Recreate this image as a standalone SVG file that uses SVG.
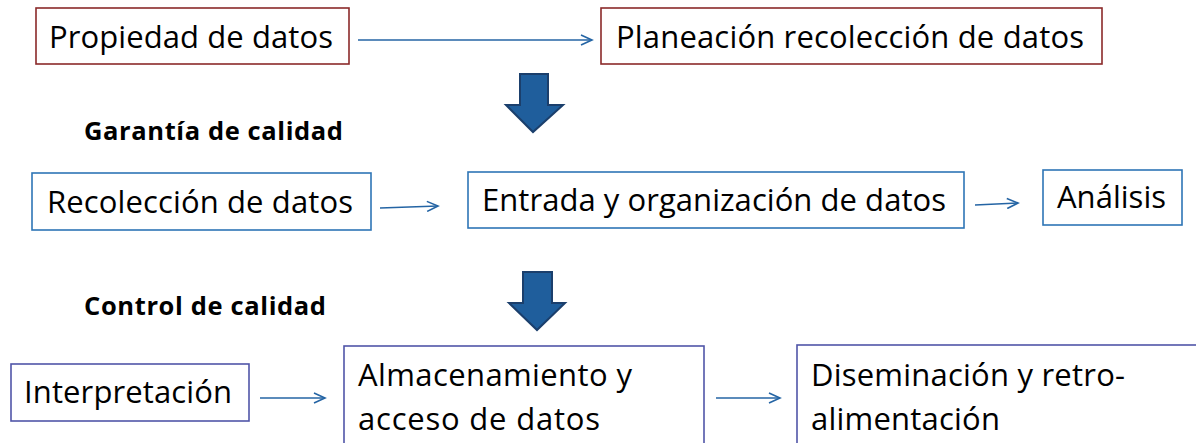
<svg xmlns="http://www.w3.org/2000/svg" width="1196" height="443" viewBox="0 0 1196 443">
<style>
.box{fill:#fff;stroke-width:1.6}
.red{stroke:#8B2A2A}
.blue{stroke:#2E75B6}
.purple{stroke:#5055A8}
.t{font-family:"Open Sans","Liberation Sans",sans-serif;font-size:31px;fill:#000}
.h{font-family:"Open Sans","Liberation Sans",sans-serif;font-size:25.5px;font-weight:bold;fill:#000}
.conn{stroke:#2464A4;stroke-width:1.6;fill:none}
.big{fill:#1F5E9C;stroke:#1B3F6C;stroke-width:2;stroke-linejoin:miter}
</style>
<defs>
<marker id="ah" markerWidth="14" markerHeight="12" refX="12" refY="6" orient="auto" markerUnits="userSpaceOnUse">
<polyline points="1,1 12,6 1,11" fill="none" stroke="#2464A4" stroke-width="1.6"/>
</marker>
</defs>
<rect width="1196" height="443" fill="#fff"/>
<g id="n1"><rect class="box red" x="36" y="8" width="313" height="56"/><text class="t" x="49" y="48" textLength="284">Propiedad de datos</text></g>
<g id="n2"><rect class="box red" x="601" y="8" width="501" height="56"/><text class="t" x="616" y="48" textLength="468">Planeación recolección de datos</text></g>
<g id="arrow1"><polygon class="big" points="520,74 548,74 548,105 563,105 533,132 506,105 520,105"/></g>
<g id="lbl1"><text class="h" x="84" y="140" textLength="259">Garantía de calidad</text></g>
<g id="n3"><rect class="box blue" x="32" y="173" width="339" height="57"/><text class="t" x="47" y="213" textLength="306">Recolección de datos</text></g>
<g id="n4"><rect class="box blue" x="468" y="172" width="496" height="56"/><text class="t" x="482" y="211" textLength="464">Entrada y organización de datos</text></g>
<g id="n5"><rect class="box blue" x="1043" y="170" width="139" height="55"/><text class="t" x="1057" y="208" textLength="109">Análisis</text></g>
<g id="arrow2"><polygon class="big" points="523,272 552,272 552,303 565,303 537,330 509,303 523,303"/></g>
<g id="lbl2"><text class="h" x="84" y="315" textLength="242">Control de calidad</text></g>
<g id="n6"><rect class="box purple" x="11" y="364" width="238" height="57"/><text class="t" x="24" y="403" textLength="208">Interpretación</text></g>
<g id="n7"><rect class="box purple" x="344" y="346" width="360" height="110"/><text class="t" x="358" y="386" textLength="274">Almacenamiento y</text><text class="t" x="358" y="430" textLength="242">acceso de datos</text></g>
<g id="n8"><rect class="box purple" x="797" y="345" width="420" height="110"/><text class="t" x="811" y="386" textLength="314">Diseminación y retro-</text><text class="t" x="811" y="430" textLength="189">alimentación</text></g>
<g id="connectors">
<line class="conn" x1="358" y1="40" x2="592" y2="40" marker-end="url(#ah)"/>
<line class="conn" x1="380" y1="208" x2="438" y2="206" marker-end="url(#ah)"/>
<line class="conn" x1="975" y1="205" x2="1018" y2="203" marker-end="url(#ah)"/>
<line class="conn" x1="260" y1="398" x2="325" y2="398" marker-end="url(#ah)"/>
<line class="conn" x1="716" y1="398" x2="780" y2="398" marker-end="url(#ah)"/>
</g>
</svg>
